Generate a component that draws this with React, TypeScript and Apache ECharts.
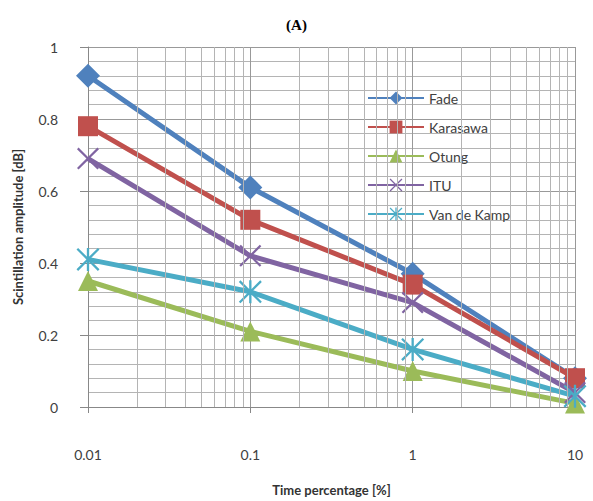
import React, { useEffect, useRef } from "react";
import * as echarts from "echarts";

const TIME_PCT = [0.01, 0.1, 1, 10];
const FADE = [0.92, 0.61, 0.37, 0.08];
const KARASAWA = [0.78, 0.52, 0.34, 0.08];
const OTUNG = [0.35, 0.21, 0.1, 0.01];
const ITU = [0.69, 0.42, 0.29, 0.04];
const VAN_DE_KAMP = [0.41, 0.32, 0.16, 0.03];
const SERIES_NAMES = ["Fade", "Karasawa", "Otung", "ITU", "Van de Kamp"];
const DECADES = [0.01, 0.1, 1];
const MINOR_MULT = [2, 3, 4, 5, 6, 7, 8, 9];

const COLORS = ["#4F81BD", "#C0504D", "#9BBB59", "#8064A2", "#4BACC6"];
const X_SYMBOL =
  "path://M0.7,0 L5,4.3 L9.3,0 L10,0.7 L5.7,5 L10,9.3 L9.3,10 L5,5.7 L0.7,10 L0,9.3 L4.3,5 L0,0.7 Z";
const STAR_SYMBOL =
  "path://M0.7,0 L5,4.3 L9.3,0 L10,0.7 L5.7,5 L10,9.3 L9.3,10 L5,5.7 L0.7,10 L0,9.3 L4.3,5 L0,0.7 Z M4.5,0 L5.5,0 L5.5,10 L4.5,10 Z";

export default function App() {
  const ref = useRef<HTMLDivElement>(null);
  useEffect(() => {
    if (!ref.current) return;
    const chart = echarts.init(ref.current, undefined, { renderer: "svg" });
    const values = [FADE, KARASAWA, OTUNG, ITU, VAN_DE_KAMP];
    const symbols = ["diamond", "rect", "triangle", X_SYMBOL, STAR_SYMBOL];
    const sizes = [24, 20, 20, 22, 23];
    const minorX: number[] = [];
    DECADES.forEach((d) => MINOR_MULT.forEach((m) => minorX.push(parseFloat((d * m).toPrecision(3)))));
    const font = "Lato, 'Open Sans', sans-serif";
    const series: any[] = [
      {
        name: "_grid",
        type: "line",
        data: [
          [0.01, 0],
          [10, 0],
        ],
        symbol: "none",
        lineStyle: { opacity: 0 },
        silent: true,
        z: 1,
        markLine: {
          silent: true,
          symbol: "none",
          label: { show: false },
          lineStyle: { color: "#b4b4b4", width: 1, type: "solid" },
          data: minorX.map((v) => ({ xAxis: v })),
        },
      },
    ];
    SERIES_NAMES.forEach((name, i) => {
      series.push({
        name,
        type: "line",
        data: TIME_PCT.map((t, j) => [t, values[i][j]]),
        symbol: symbols[i],
        symbolSize: sizes[i],
        lineStyle: { color: COLORS[i], width: 5 },
        itemStyle: { color: COLORS[i] },
        z: 3,
      });
    });
    chart.setOption({
      animation: false,
      backgroundColor: "#ffffff",
      title: {
        text: "(A)",
        left: "center",
        top: 12,
        textStyle: {
          fontFamily: "'Liberation Serif', serif",
          fontWeight: "bold",
          fontSize: 15,
          color: "#000",
        },
      },
      legend: {
        data: SERIES_NAMES,
        orient: "vertical",
        left: 362,
        top: 86,
        itemGap: 15,
        itemWidth: 56,
        itemHeight: 16,
        textStyle: { fontFamily: font, fontSize: 14, color: "#404040", padding: [8, 0, 0, 0] },
      },
      grid: { left: 88, right: 18, top: 47, bottom: 88, containLabel: false },
      xAxis: {
        type: "log",
        logBase: 10,
        min: 0.01,
        max: 10,
        name: "Time percentage [%]",
        nameLocation: "middle",
        nameGap: 76,
        nameTextStyle: { fontFamily: font, fontWeight: "bold", fontSize: 13, color: "#333" },
        axisLine: { show: true, lineStyle: { color: "#888" } },
        axisTick: { show: true, length: 6, lineStyle: { color: "#888" } },
        axisLabel: {
          margin: 40,
          fontFamily: font,
          fontSize: 14,
          color: "#404040",
          formatter: (v: number) => String(parseFloat(v.toPrecision(3))),
        },
        splitLine: { show: true, lineStyle: { color: "#999", width: 1 } },
      },
      yAxis: {
        type: "value",
        min: 0,
        max: 1,
        interval: 0.2,
        name: "Scintillation amplitude [dB]",
        nameLocation: "middle",
        nameRotate: 90,
        nameGap: 64,
        nameTextStyle: { fontFamily: font, fontWeight: "bold", fontSize: 13, color: "#333" },
        axisLine: { show: true, lineStyle: { color: "#888" } },
        axisTick: { show: true, length: 8, lineStyle: { color: "#888" } },
        axisLabel: {
          margin: 30,
          fontFamily: font,
          fontSize: 14,
          color: "#404040",
          formatter: (v: number) => String(parseFloat(v.toFixed(2))),
        },
        splitLine: { show: true, lineStyle: { color: "#999", width: 1 } },
        minorTick: { show: false, splitNumber: 5 },
        minorSplitLine: { show: true, lineStyle: { color: "#b4b4b4", width: 1 } },
      },
      series,
    });
    return () => chart.dispose();
  }, []);
  return <div ref={ref} style={{ width: 593, height: 501, position: "absolute", left: 0, top: 0 }} />;
}
